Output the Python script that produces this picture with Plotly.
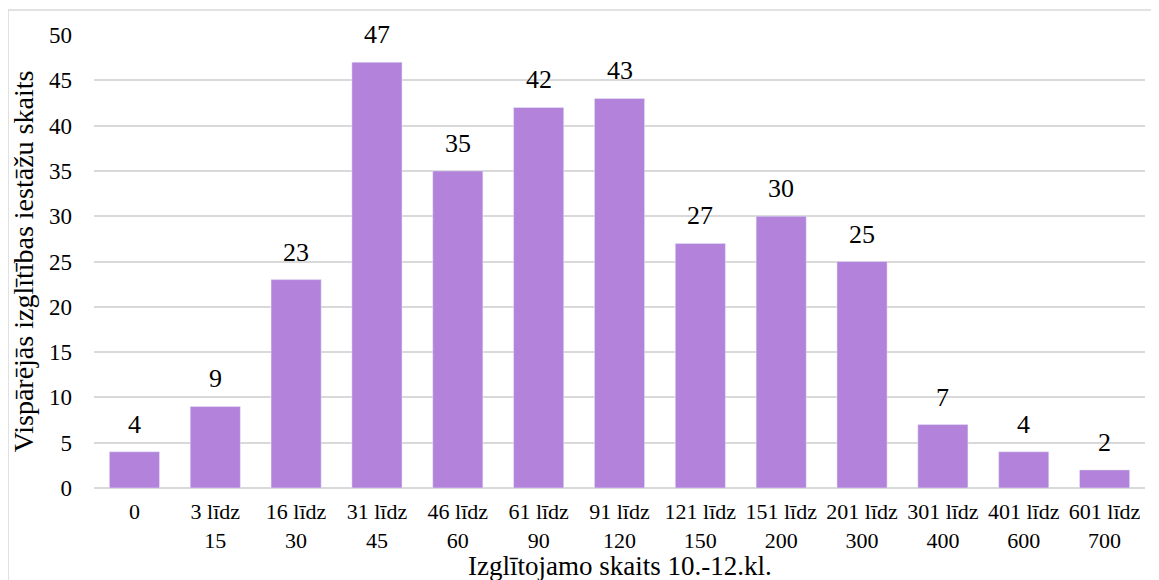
import plotly.graph_objects as go

categories = ["0", "3 līdz<br>15", "16 līdz<br>30", "31 līdz<br>45", "46 līdz<br>60",
              "61 līdz<br>90", "91 līdz<br>120", "121 līdz<br>150", "151 līdz<br>200",
              "201 līdz<br>300", "301 līdz<br>400", "401 līdz<br>600", "601 līdz<br>700"]
values = [4, 9, 23, 47, 35, 42, 43, 27, 30, 25, 7, 4, 2]
y_ticks = [0, 5, 10, 15, 20, 25, 30, 35, 40, 45, 50]
x_title = "Izglītojamo skaits 10.-12.kl."
y_title = "Vispārējās izglītības iestāžu skaits"

FONT = "Liberation Serif"

fig = go.Figure(go.Bar(
    x=categories, y=values,
    marker_color="#b383db",
    hoverinfo="x+y",
))

for c, v in zip(categories, values):
    fig.add_annotation(x=c, y=v, text=str(v), showarrow=False,
                       yanchor="bottom", yshift=11,
                       font=dict(family=FONT, size=26, color="#000000"))

fig.add_annotation(xref="paper", yref="paper", x=0.5, y=-0.172, text=x_title,
                   showarrow=False, xanchor="center", yanchor="middle",
                   font=dict(family=FONT, size=27, color="#000000"))

fig.update_layout(
    width=1151, height=572,
    margin=dict(l=86, r=14, t=27, b=92, autoexpand=False),
    paper_bgcolor="white", plot_bgcolor="white",
    bargap=0.38,
    showlegend=False,
    font=dict(family=FONT, color="#000000"),
    xaxis=dict(
        tickfont=dict(family=FONT, size=22),
        ticklabelstandoff=8,
        showline=False, ticks="", automargin=False,
    ),
    yaxis=dict(
        range=[0, 50], tickvals=y_ticks,
        tickfont=dict(family=FONT, size=23),
        title=dict(text=y_title, font=dict(family=FONT, size=28), standoff=8),
        showgrid=True, gridcolor="#d9d9d9", gridwidth=1.5,
        zeroline=True, zerolinecolor="#d9d9d9", zerolinewidth=1.5,
        ticks="", ticklabelstandoff=21, automargin=False,
    ),
    shapes=[dict(type="rect", xref="paper", yref="paper",
                 x0=-0.0818, x1=1.0114, y0=-0.3, y1=1.055,
                 line=dict(color="#d9d9d9", width=1.5), fillcolor="rgba(0,0,0,0)", layer="below")],
)

fig.write_html("out.html")
